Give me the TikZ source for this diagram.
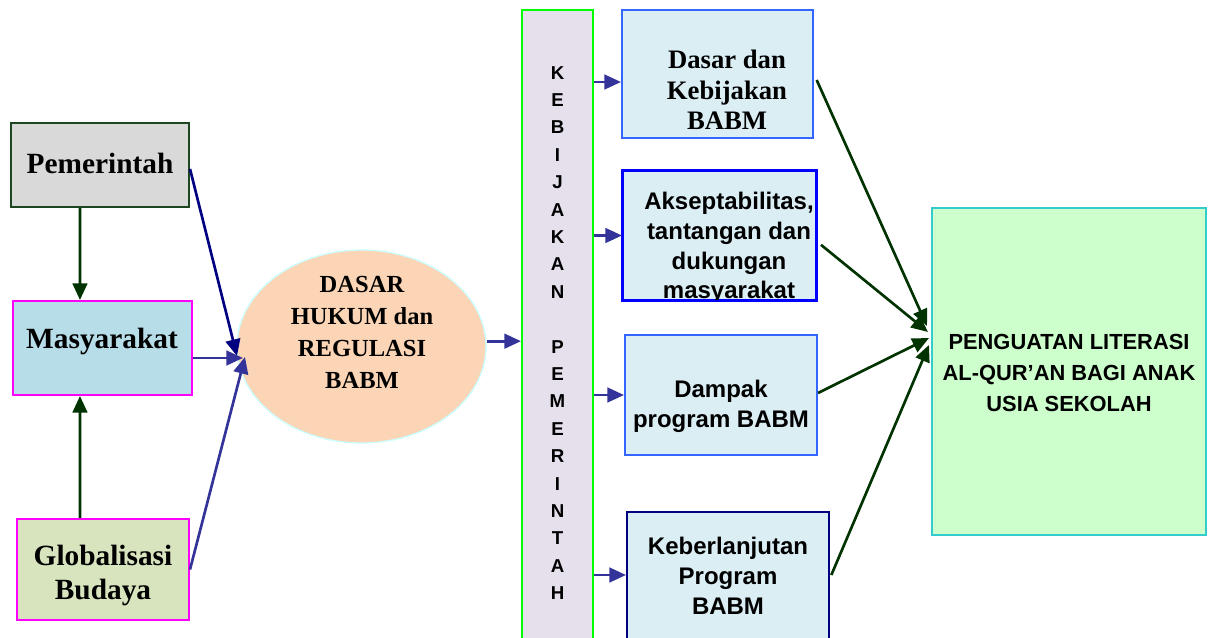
\documentclass[tikz,border=0pt]{standalone}
\usepackage{fontspec}
\setmainfont{Liberation Serif}
\setsansfont{Liberation Sans}
\usetikzlibrary{shapes.geometric,arrows.meta}
\definecolor{pemfill}{HTML}{D9D9D9}
\definecolor{pemline}{HTML}{1E4620}
\definecolor{masfill}{HTML}{B6DDE8}
\definecolor{magline}{HTML}{FF00FF}
\definecolor{glofill}{HTML}{D7E4BD}
\definecolor{elfill}{HTML}{FBD5B5}
\definecolor{elline}{HTML}{CCFFFF}
\definecolor{barfill}{HTML}{E5E0EC}
\definecolor{barline}{HTML}{00FF00}
\definecolor{bxfill}{HTML}{DBEEF4}
\definecolor{royal}{HTML}{3366FF}
\definecolor{pureblue}{HTML}{0000FF}
\definecolor{navy}{HTML}{000080}
\definecolor{bigfill}{HTML}{CCFFCC}
\definecolor{bigline}{HTML}{33CCCC}
\definecolor{cgreen}{HTML}{003300}
\definecolor{cblue}{HTML}{333399}
\tikzset{
  box/.style={draw, line width=1.5pt, inner sep=0pt},
  lbl/.style={align=center, inner sep=0pt, text=black},
  serifbig/.style={font=\rmfamily\bfseries\fontsize{22}{25.5}\selectfont},
  serifmid/.style={font=\rmfamily\bfseries\fontsize{18.4}{24}\selectfont},
  serifdk/.style={font=\rmfamily\bfseries\fontsize{20}{22.9}\selectfont},
  sansmid/.style={font=\sffamily\bfseries\fontsize{18}{22.3}\selectfont},
  sansbar/.style={font=\sffamily\bfseries\fontsize{14}{20.55}\selectfont},
  sansbig/.style={font=\sffamily\bfseries\fontsize{16.4}{23.25}\selectfont},
  ar/.style={-{Triangle[length=12.5pt,width=11pt]}, line width=2pt},
}
\begin{document}
\begin{tikzpicture}[x=0.75pt,y=-0.75pt]
\useasboundingbox (0,0) rectangle (1214,638);
\clip (0,0) rectangle (1214,638);

% left boxes
\node[box, draw=pemline, fill=pemfill, minimum width=133.5pt, minimum height=63pt] (pem) at (100,165) {};
\node[box, draw=magline, fill=masfill, minimum width=134.25pt, minimum height=70.5pt] (mas) at (102.5,348) {};
\node[box, draw=magline, fill=glofill, minimum width=129pt, minimum height=75.75pt] (glo) at (103,569.5) {};
\node[lbl, serifbig] (pemt) at (100,163) {Pemerintah};
\node[lbl, serifbig] (mast) at (102,341) {Masyarakat};
\node[lbl, serifbig] (glot) at (103,575) {Globalisasi\\Budaya};

% ellipse
\node[ellipse, draw=elline, line width=1pt, fill=elfill, minimum width=186.75pt, minimum height=144.75pt, inner sep=0pt] (dasar) at (361.5,346.5) {};
\node[lbl, serifmid] (dast) at (362,332) {DASAR\\HUKUM dan\\REGULASI\\BABM};

% vertical bar
\node[box, draw=barline, fill=barfill, minimum width=53.25pt, minimum height=480pt] (bar) at (557.5,330) {};
\node[lbl, sansbar] (bart) at (557.5,333) {K\\E\\B\\I\\J\\A\\K\\A\\N\\[20.55pt]P\\E\\M\\E\\R\\I\\N\\T\\A\\H};

% right boxes
\node[box, draw=royal, fill=bxfill, minimum width=143.25pt, minimum height=96pt] (dk) at (717.5,74) {};
\node[lbl, serifdk] (dkt) at (727,90) {Dasar dan\\Kebijakan\\BABM};

\node[box, draw=pureblue, fill=bxfill, minimum width=144.75pt, minimum height=96.75pt] (ak) at (719.5,235.5) {};
\begin{scope}
\clip (ak.south west) rectangle (ak.north east);
\node[lbl, sansmid] (akt) at (729,248) {Akseptabilitas,\\tantangan dan\\dukungan\\masyarakat};
\end{scope}
\draw[draw=pureblue, line width=1.5pt] (ak.south west) rectangle (ak.north east);

\node[box, draw=royal, fill=bxfill, minimum width=144pt, minimum height=90pt] (dp) at (721,395) {};
\node[lbl, sansmid] (dpt) at (721,406) {Dampak\\program BABM};

\node[box, draw=navy, fill=bxfill, minimum width=151.5pt, minimum height=103.5pt] (kb) at (728,581) {};
\node[lbl, sansmid] (kbt) at (728,576) {Keberlanjutan\\Program\\BABM};

% big box
\node[box, draw=bigline, fill=bigfill, minimum width=205.5pt, minimum height=245.25pt] (big) at (1069,371.5) {};
\node[lbl, sansbig] (bigt) at (1069,373) {PENGUATAN LITERASI\\AL-QUR'AN BAGI ANAK\\USIA SEKOLAH};

% connectors left
\draw[ar, color=cgreen] ([xshift=-15pt]pem.south) -- ([xshift=-16.9pt]mas.north);
\draw[ar, color=cgreen] ([xshift=-17.25pt]glo.north) -- ([xshift=-16.9pt]mas.south);
\coordinate (h1) at (237,356);
\coordinate (h2) at (243,358);
\coordinate (h3) at (245,357);
\draw[ar, color=navy] ([yshift=-3pt]pem.east) -- (h1);
\draw[ar, color=cblue] (mas.east |- h2) -- (h2);
\draw[ar, color=cblue] (glo.east) -- (h3);
\coordinate (dout) at ([yshift=4pt]dasar.east);
\draw[ar, color=cblue] (dout) -- (dout -| bar.west);

% bar to boxes
\coordinate (dkin) at ([yshift=-6pt]dk.west);
\coordinate (kbin) at ([yshift=4.5pt]kb.west);
\draw[ar, color=cblue] (bar.east |- dkin) -- (dkin);
\draw[ar, color=cblue] (bar.east |- ak.west) -- (ak.west);
\draw[ar, color=cblue] (bar.east |- dp.west) -- (dp.west);
\draw[ar, color=cblue] (bar.east |- kbin) -- (kbin);

% boxes to big
\coordinate (t1) at (927,326);
\coordinate (t2) at (928,332);
\coordinate (t3) at (929,338);
\coordinate (t4) at (929,345);
\draw[ar, color=cgreen] ([xshift=2pt,yshift=-4.5pt]dk.east) -- (t1);
\draw[ar, color=cgreen] ([xshift=3pt,yshift=-7pt]ak.east) -- (t2);
\draw[ar, color=cgreen] ([yshift=1.5pt]dp.east) -- (t3);
\draw[ar, color=cgreen] ([xshift=1pt,yshift=4.5pt]kb.east) -- (t4);
\end{tikzpicture}
\end{document}
